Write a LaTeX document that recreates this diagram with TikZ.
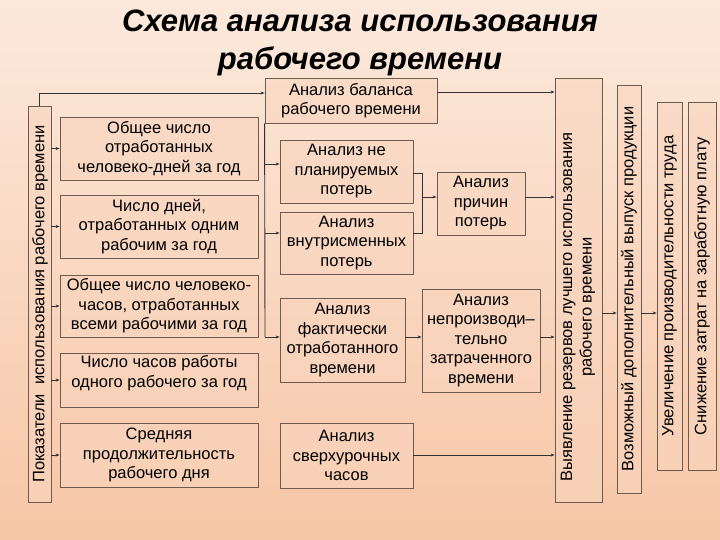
\documentclass[tikz,border=0pt]{standalone}
\usepackage{fontspec}
\setmainfont{Liberation Sans}
\usetikzlibrary{arrows.meta}
\definecolor{bgtop}{HTML}{FCE9DC}
\definecolor{bgbot}{HTML}{F7C6A6}
\definecolor{boxfill}{HTML}{F9D5BE}
\definecolor{edge}{HTML}{6E5A4E}
\begin{document}
\begin{tikzpicture}[x=1pt,y=-1pt,
  tf/.style={font=\fontsize{16.5}{19.5}\selectfont},
  bx/.style={draw=edge,line width=0.8pt,fill=boxfill,fill opacity=0.6,text opacity=1,align=center,tf,inner sep=0pt},
  ar/.style={draw=black!80,line width=0.9pt,-{Stealth[length=4pt,width=3pt]}},
  ln/.style={draw=black!80,line width=0.9pt}]
\shade[top color=bgtop,bottom color=bgbot] (0,0) rectangle (720,540);
\useasboundingbox (0,0) rectangle (720,540);
\node (title) at (360,43) [align=center,font=\fontsize{31}{38}\selectfont\bfseries\itshape] {Схема анализа использования\\рабочего времени};
% boxes
\newcommand{\bxat}[6]{\node[bx,minimum width=#4-#2,minimum height=#5-#3] (#1) at ({(#2+#4)/2},{(#3+#5)/2}) {#6};}
\bxat{pan}{28}{106}{51}{502}{}
\node[rotate=90,tf] (pant) at (40,304) {Показатели\ \ использования рабочего времени};
\bxat{bal}{265}{78}{437}{123}{Анализ баланса\\рабочего времени}
\bxat{b1}{60}{117}{258}{180}{Общее число\\отработанных\\человеко-дней за год}
\bxat{b2}{60}{195}{258}{258}{Число дней,\\отработанных одним\\рабочим за год}
\bxat{b3}{60}{275}{258}{337}{Общее число человеко-\\часов, отработанных\\всеми рабочими за год}
\bxat{b4}{60}{353}{258}{407}{}
\node[align=center,tf] (b4t) at (159,373) {Число часов работы\\одного рабочего за год};
\bxat{b5}{60}{423}{258}{487}{Средняя\\продолжительность\\рабочего дня}
\bxat{m1}{280}{140}{413}{203}{Анализ не\\планируемых\\потерь}
\bxat{m2}{280}{212}{413}{274}{Анализ\\внутрисменных\\потерь}
\bxat{m3}{280}{298}{405}{382}{Анализ\\фактически\\отработанного\\времени}
\bxat{m4}{280}{423}{413}{488}{Анализ\\сверхурочных\\часов}
\bxat{c1}{437}{172}{525}{235}{Анализ\\причин\\потерь}
\bxat{c2}{422}{289}{540}{392}{Анализ\\непроизводи–\\тельно\\затраченного\\времени}
\bxat{v1}{555}{78}{602}{502}{}
\node[rotate=90,align=center,tf] (v1t) at (578,307) {Выявление резервов лучшего использования\\рабочего времени};
\bxat{v2}{617}{85}{641}{493}{}
\node[rotate=90,tf] (v2t) at (629,289) {Возможный дополнительный выпуск продукции};
\bxat{v3}{657}{102}{682}{470}{}
\node[rotate=90,tf] (v3t) at (669.5,286) {Увеличение производительности труда};
\bxat{v4}{688}{102}{716}{470}{}
\node[rotate=90,tf] (v4t) at (702,286) {Снижение затрат на заработную плату};
% connectors
\draw[ar] (pan.north) -- (39.5,93) -- (bal.west |- 0,93);
\foreach \b in {b1,b2,b3,b4,b5} \draw[ar] (pan.east |- \b.west) -- (\b.west);
\draw[ln] (bal.south west) -- (265,337);
\draw[ar] (265,164) -- (m1.west |- 0,164);
\draw[ar] (265,233) -- (m2.west |- 0,233);
\draw[ar] (265,337) -- (m3.west |- 0,337);
\draw[ln] (m1.east |- 0,173) -- (422,173) -- (422,233) -- (m2.east |- 0,233);
\draw[ar] (422,197) -- (c1.west |- 0,197);
\draw[ar] (bal.east |- 0,92) -- (v1.west |- 0,92);
\draw[ar] (c1.east |- 0,197) -- (v1.west |- 0,197);
\draw[ar] (m3.east |- 0,337) -- (c2.west |- 0,337);
\draw[ar] (c2.east |- 0,337) -- (v1.west |- 0,337);
\draw[ar] (m4.east |- 0,455) -- (v1.west |- 0,455);
\draw[ar] (v1.east |- 0,313) -- (v2.west |- 0,313);
\draw[ar] (v2.east |- 0,313) -- (v3.west |- 0,313);
\end{tikzpicture}
\end{document}
